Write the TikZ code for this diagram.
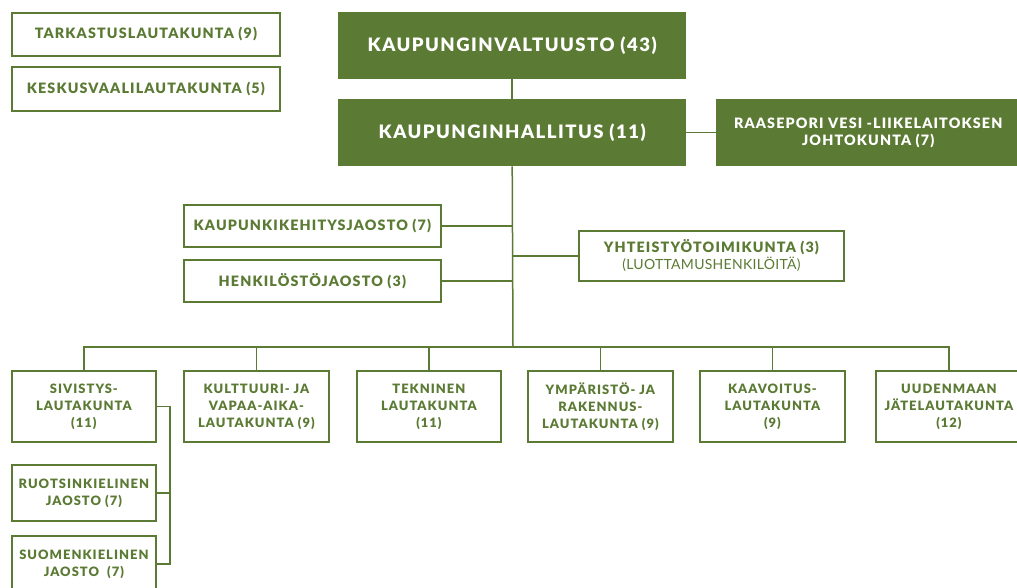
\documentclass[tikz,border=0pt]{standalone}
\usepackage{fontspec}
\newfontfamily\gs[LetterSpace=8, BoldFont={Lato Black}]{Lato}
\newfontfamily\gsr[LetterSpace=2]{Lato}
\definecolor{gr}{RGB}{91,122,51}
\tikzset{
  base/.style={anchor=north west, align=center, inner sep=0pt, font=\gs\bfseries\fontsize{14.3}{17}\selectfont},
  gbox/.style={base, draw=gr, line width=1.8pt, fill=white, text=gr},
  lbox/.style={gbox, font=\gs\bfseries\fontsize{12.9}{17}\selectfont},
  fbox/.style={base, fill=gr, text=white, font=\gs\bfseries\fontsize{18.5}{20}\selectfont},
  conn/.style={draw=gr, line width=1.5pt},
}
\begin{document}
\begin{tikzpicture}[x=1pt,y=-1pt]
\useasboundingbox (0,0) rectangle (1017,588);
% top left
\node[gbox, minimum width=268pt, minimum height=43pt] (tark) at (11,12) {TARKASTUSLAUTAKUNTA (9)};
\node[gbox, minimum width=268pt, minimum height=44pt] (kesk) at (11,66) {KESKUSVAALILAUTAKUNTA (5)};
% main
\node[fbox, minimum width=348pt, minimum height=67pt] (val) at (338,12) {KAUPUNGINVALTUUSTO (43)};
\node[fbox, minimum width=348pt, minimum height=67pt] (hal) at (338,99) {KAUPUNGINHALLITUS (11)};
\node[fbox, font=\gs\bfseries\fontsize{14.3}{17}\selectfont, minimum width=304pt, minimum height=67pt] (raa) at (716,99) {RAASEPORI VESI -LIIKELAITOKSEN\\JOHTOKUNTA (7)};
% sub
\node[gbox, minimum width=257pt, minimum height=42pt] (kk) at (183,204) {KAUPUNKIKEHITYSJAOSTO (7)};
\node[gbox, minimum width=257pt, minimum height=42pt] (hj) at (183,259) {HENKILÖSTÖJAOSTO (3)};
\node[gbox, minimum width=265pt, minimum height=50pt] (yht) at (578,230) {YHTEISTYÖTOIMIKUNTA (3)\\{\gsr\mdseries\fontsize{14}{17}\selectfont (LUOTTAMUSHENKILÖITÄ)}};
% bottom
\node[lbox, minimum width=144pt, minimum height=71pt] (siv) at (11,370) {SIVISTYS-\\LAUTAKUNTA\\(11)};
\node[lbox, minimum width=145pt, minimum height=71pt] (kul) at (183,370) {KULTTUURI- JA\\VAPAA-AIKA-\\LAUTAKUNTA (9)};
\node[lbox, minimum width=144pt, minimum height=71pt] (tek) at (356,370) {TEKNINEN\\LAUTAKUNTA\\(11)};
\node[lbox, minimum width=145pt, minimum height=71pt] (ymp) at (527,370) {YMPÄRISTÖ- JA\\RAKENNUS-\\LAUTAKUNTA (9)};
\node[lbox, minimum width=145pt, minimum height=71pt] (kaa) at (699,370) {KAAVOITUS-\\LAUTAKUNTA\\(9)};
\node[lbox, minimum width=146pt, minimum height=71pt] (uud) at (875,370) {UUDENMAAN\\JÄTELAUTAKUNTA\\(12)};
\node[lbox, minimum width=144pt, minimum height=56pt] (ruo) at (11,464) {RUOTSINKIELINEN\\JAOSTO (7)};
\node[lbox, minimum width=144pt, minimum height=56pt] (suo) at (11,535) {SUOMENKIELINEN\\JAOSTO\ \ (7)};
% connectors
\coordinate (bus) at (513,347);
\draw[conn] (val.south) -- (hal.north);
\draw[conn] (hal.east) -- (raa.west);
\draw[conn] (hal.south) -- (bus);
\draw[conn] (kk.east) -- (kk.east -| bus);
\draw[conn] (hj.east) -- (hj.east -| bus);
\draw[conn] (yht.west) -- (yht.west -| bus);
\draw[conn] (siv.north) |- (bus) -| (uud.north);
\draw[conn] (kul.north) -- (kul.north |- bus);
\draw[conn] (tek.north) -- (tek.north |- bus);
\draw[conn] (ymp.north) -- (ymp.north |- bus);
\draw[conn] (kaa.north) -- (kaa.north |- bus);
\draw[conn] (siv.east) -- ++(13,0) coordinate (sj) |- (suo.east);
\draw[conn] (ruo.east) -- (ruo.east -| sj);
\end{tikzpicture}
\end{document}
